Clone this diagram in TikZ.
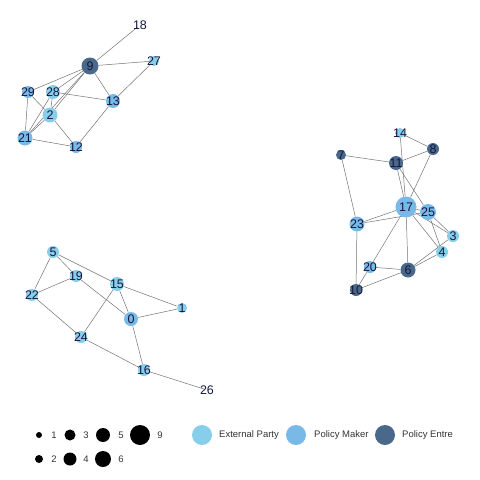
\documentclass[tikz,border=0pt]{standalone}
\usepackage{fontspec}
\setmainfont{Liberation Sans}
\usepackage{tikz}
\usetikzlibrary{backgrounds}

\definecolor{extcol}{RGB}{135,206,235}
\definecolor{makercol}{RGB}{120,185,232}
\definecolor{entrecol}{RGB}{74,104,138}
\definecolor{labcol}{RGB}{20,24,60}
\definecolor{edgecol}{RGB}{115,115,115}

\begin{document}
\begin{tikzpicture}[x=1pt, y=-1pt,
  vtx/.style   = {circle, draw=none, inner sep=0pt},
  ext/.style   = {vtx, fill=extcol},
  maker/.style = {vtx, fill=makercol},
  entre/.style = {vtx, fill=entrecol},
  bare/.style  = {vtx},
  d1/.style    = {minimum size=6pt},
  d2/.style    = {minimum size=10pt},
  d3/.style    = {minimum size=12pt},
  d4/.style    = {minimum size=14pt},
  d5/.style    = {minimum size=15pt},
  d6/.style    = {minimum size=16pt},
  d7/.style    = {minimum size=17pt},
  d9/.style    = {minimum size=21pt},
  lab/.style   = {text=labcol, inner sep=0pt, font=\fontsize{12.5}{12.5}\selectfont},
  link/.style  = {draw=edgecol, line width=0.5pt},
  key/.style   = {circle, fill=black, inner sep=0pt},
  keytxt/.style= {inner sep=0pt, text=black!80, font=\fontsize{9.5}{9.5}\selectfont},
]

\useasboundingbox (0,0) rectangle (480,480);

% top group
\node [bare , d1, label={[lab]center:18}] (18) at (140, 25) {};
\node [entre, d7, label={[lab]center:9} ] (9)  at ( 90, 66) {};
\node [ext  , d2, label={[lab]center:27}] (27) at (154, 61) {};
\node [maker, d3, label={[lab]center:29}] (29) at ( 28, 92) {};
\node [ext  , d4, label={[lab]center:28}] (28) at ( 53, 92) {};
\node [maker, d4, label={[lab]center:13}] (13) at (113,101) {};
\node [ext  , d5, label={[lab]center:2} ] (2)  at ( 50,115) {};
\node [maker, d5, label={[lab]center:21}] (21) at ( 25,138) {};
\node [maker, d3, label={[lab]center:12}] (12) at ( 76,147) {};

% right group
\node [ext  , d2, label={[lab]center:14}] (14) at (400,133) {};
\node [entre, d3, label={[lab]center:8} ] (8)  at (433,149) {};
\node [entre, d2, label={[lab]center:7} ] (7)  at (341,155) {};
\node [entre, d4, label={[lab]center:11}] (11) at (396,163) {};
\node [maker, d9, label={[lab]center:17}] (17) at (406,207) {};
\node [maker, d6, label={[lab]center:25}] (25) at (428,212) {};
\node [maker, d5, label={[lab]center:23}] (23) at (357,224) {};
\node [ext  , d3, label={[lab]center:3} ] (3)  at (453,236) {};
\node [ext  , d3, label={[lab]center:4} ] (4)  at (442,252) {};
\node [maker, d3, label={[lab]center:20}] (20) at (370,267) {};
\node [entre, d5, label={[lab]center:6} ] (6)  at (408,270) {};
\node [entre, d3, label={[lab]center:10}] (10) at (356,290) {};

% bottom group
\node [ext  , d3, label={[lab]center:5} ] (5)  at ( 53,252) {};
\node [ext  , d3, label={[lab]center:19}] (19) at ( 76,276) {};
\node [ext  , d4, label={[lab]center:15}] (15) at (117,284) {};
\node [ext  , d3, label={[lab]center:22}] (22) at ( 32,295) {};
\node [ext  , d2, label={[lab]center:1} ] (1)  at (182,308) {};
\node [maker, d4, label={[lab]center:0} ] (0)  at (131,319) {};
\node [ext  , d3, label={[lab]center:24}] (24) at ( 81,337) {};
\node [ext  , d3, label={[lab]center:16}] (16) at (144,370) {};
\node [bare , d1, label={[lab]center:26}] (26) at (207,390) {};

\begin{scope}[on background layer]
\path [link] (9)  edge (18) edge (27) edge (29) edge (28) edge (2) edge (21) edge (13);
\path [link] (27) edge (13);
\path [link] (28) edge (13) edge (2) edge (21);
\path [link] (29) edge (21) edge (2);
\path [link] (2)  edge (21) edge (12);
\path [link] (12) edge (21) edge (13);

\path [link] (14) edge (8)  edge (17);
\path [link] (8)  edge (11) edge (17);
\path [link] (7)  edge (11) edge (23);
\path [link] (11) edge (17) edge (25);
\path [link] (17) edge (25) edge (23) edge (3) edge (4) edge (6) edge (20);
\path [link] (23) edge (25) edge (10);
\path [link] (25) edge (3)  edge (4);
\path [link] (6)  edge (4)  edge (3) edge (20) edge (10);
\path [link] (20) edge (10);

\path [link] (5)  edge (19) edge (15) edge (22);
\path [link] (22) edge (19) edge (24);
\path [link] (0)  edge (19) edge (15) edge (1) edge (16);
\path [link] (15) edge (1)  edge (24);
\path [link] (16) edge (24) edge (26);
\end{scope}

% legend
\node [key, minimum size=6pt ] (k1) at ( 39,435) {};
\node [key, minimum size=11pt] (k3) at ( 70,435) {};
\node [key, minimum size=14pt] (k5) at (103,435) {};
\node [key, minimum size=20pt] (k9) at (140,435) {};
\node [key, minimum size=8pt ] (k2) at ( 39,459) {};
\node [key, minimum size=13pt] (k4) at ( 70,459) {};
\node [key, minimum size=16pt] (k6) at (103,459) {};
\node [keytxt] (t1) at ( 54,435) {1};
\node [keytxt] (t3) at ( 86,435) {3};
\node [keytxt] (t5) at (121,435) {5};
\node [keytxt] (t9) at (160,435) {9};
\node [keytxt] (t2) at ( 54,459) {2};
\node [keytxt] (t4) at ( 86,459) {4};
\node [keytxt] (t6) at (121,459) {6};

\node [ext  , minimum size=20pt] (kext)   at (202,435) {};
\node [maker, minimum size=20pt] (kmaker) at (296,435) {};
\node [entre, minimum size=20pt] (kentre) at (385,435) {};
\node [keytxt, anchor=west] (text)   at (219,435) {External Party};
\node [keytxt, anchor=west] (tmaker) at (314,435) {Policy Maker};
\node [keytxt, anchor=west] (tentre) at (402,435) {Policy Entre};

\end{tikzpicture}
\end{document}
